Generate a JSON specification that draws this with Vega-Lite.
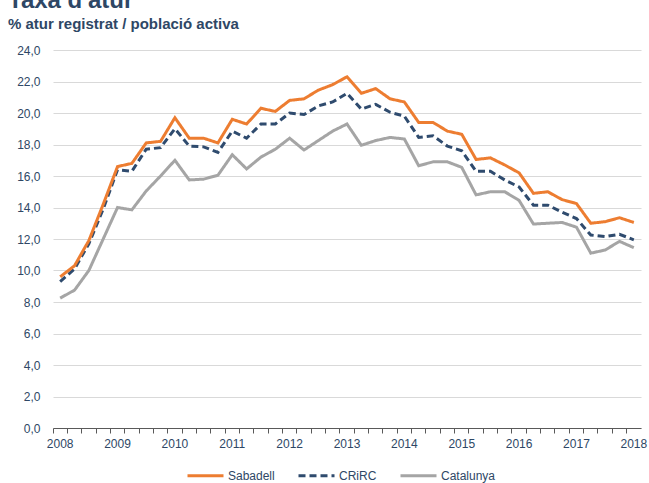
{
  "$schema": "https://vega.github.io/schema/vega-lite/v6.json",
  "width": 588,
  "height": 378,
  "autosize": "none",
  "padding": {"left": 53, "top": 50, "right": 8, "bottom": 55},
  "background": "white",
  "title": {
    "text": "Taxa d'atur",
    "subtitle": "% atur registrat / població activa",
    "anchor": "start",
    "frame": "group",
    "dx": -45,
    "offset": 12,
    "font": "Liberation Sans",
    "fontSize": 24,
    "fontWeight": "bold",
    "color": "#2E4765",
    "subtitleFont": "Liberation Sans",
    "subtitleFontSize": 15,
    "subtitleFontWeight": "bold",
    "subtitleColor": "#2E4765",
    "subtitlePadding": 4
  },
  "config": {
    "font": "Liberation Sans",
    "view": {"stroke": null}
  },
  "data": {
    "values": [
      {"t": "2008-1", "Sabadell": 9.6, "CRiRC": 9.3, "Catalunya": 8.25},
      {"t": "2008-2", "Sabadell": 10.3, "CRiRC": 10.1, "Catalunya": 8.75},
      {"t": "2008-3", "Sabadell": 11.9, "CRiRC": 11.7, "Catalunya": 10.0},
      {"t": "2008-4", "Sabadell": 14.2, "CRiRC": 13.9, "Catalunya": 12.0},
      {"t": "2009-1", "Sabadell": 16.6, "CRiRC": 16.4, "Catalunya": 14.0},
      {"t": "2009-2", "Sabadell": 16.8, "CRiRC": 16.3, "Catalunya": 13.85},
      {"t": "2009-3", "Sabadell": 18.1, "CRiRC": 17.7, "Catalunya": 15.05},
      {"t": "2009-4", "Sabadell": 18.2, "CRiRC": 17.8, "Catalunya": 16.0},
      {"t": "2010-1", "Sabadell": 19.7, "CRiRC": 19.0, "Catalunya": 17.0},
      {"t": "2010-2", "Sabadell": 18.4, "CRiRC": 17.9, "Catalunya": 15.75},
      {"t": "2010-3", "Sabadell": 18.4, "CRiRC": 17.85, "Catalunya": 15.8},
      {"t": "2010-4", "Sabadell": 18.1, "CRiRC": 17.5, "Catalunya": 16.05},
      {"t": "2011-1", "Sabadell": 19.6, "CRiRC": 18.85, "Catalunya": 17.35},
      {"t": "2011-2", "Sabadell": 19.3, "CRiRC": 18.4, "Catalunya": 16.45},
      {"t": "2011-3", "Sabadell": 20.3, "CRiRC": 19.3, "Catalunya": 17.2},
      {"t": "2011-4", "Sabadell": 20.1, "CRiRC": 19.3, "Catalunya": 17.7},
      {"t": "2012-1", "Sabadell": 20.8, "CRiRC": 20.0, "Catalunya": 18.4},
      {"t": "2012-2", "Sabadell": 20.9, "CRiRC": 19.9, "Catalunya": 17.65},
      {"t": "2012-3", "Sabadell": 21.45, "CRiRC": 20.45, "Catalunya": 18.25},
      {"t": "2012-4", "Sabadell": 21.8, "CRiRC": 20.7, "Catalunya": 18.85},
      {"t": "2013-1", "Sabadell": 22.3, "CRiRC": 21.25, "Catalunya": 19.3},
      {"t": "2013-2", "Sabadell": 21.25, "CRiRC": 20.25, "Catalunya": 17.95},
      {"t": "2013-3", "Sabadell": 21.55, "CRiRC": 20.55, "Catalunya": 18.25},
      {"t": "2013-4", "Sabadell": 20.9, "CRiRC": 20.05, "Catalunya": 18.45},
      {"t": "2014-1", "Sabadell": 20.7, "CRiRC": 19.8, "Catalunya": 18.35},
      {"t": "2014-2", "Sabadell": 19.4, "CRiRC": 18.45, "Catalunya": 16.65},
      {"t": "2014-3", "Sabadell": 19.4, "CRiRC": 18.55, "Catalunya": 16.9},
      {"t": "2014-4", "Sabadell": 18.85, "CRiRC": 17.9, "Catalunya": 16.9},
      {"t": "2015-1", "Sabadell": 18.65, "CRiRC": 17.6, "Catalunya": 16.55},
      {"t": "2015-2", "Sabadell": 17.05, "CRiRC": 16.3, "Catalunya": 14.8},
      {"t": "2015-3", "Sabadell": 17.15, "CRiRC": 16.3, "Catalunya": 15.0},
      {"t": "2015-4", "Sabadell": 16.7, "CRiRC": 15.75, "Catalunya": 15.0},
      {"t": "2016-1", "Sabadell": 16.2, "CRiRC": 15.3, "Catalunya": 14.45},
      {"t": "2016-2", "Sabadell": 14.9, "CRiRC": 14.15, "Catalunya": 12.95},
      {"t": "2016-3", "Sabadell": 15.0, "CRiRC": 14.15, "Catalunya": 13.0},
      {"t": "2016-4", "Sabadell": 14.5, "CRiRC": 13.7, "Catalunya": 13.05},
      {"t": "2017-1", "Sabadell": 14.25, "CRiRC": 13.3, "Catalunya": 12.75},
      {"t": "2017-2", "Sabadell": 13.0, "CRiRC": 12.25, "Catalunya": 11.1},
      {"t": "2017-3", "Sabadell": 13.1, "CRiRC": 12.15, "Catalunya": 11.3},
      {"t": "2017-4", "Sabadell": 13.35, "CRiRC": 12.3, "Catalunya": 11.85},
      {"t": "2018-1", "Sabadell": 13.05, "CRiRC": 11.95, "Catalunya": 11.45}
    ]
  },
  "transform": [
    {"fold": ["Catalunya", "CRiRC", "Sabadell"], "as": ["serie", "valor"]}
  ],
  "mark": {"type": "line", "strokeWidth": 3},
  "encoding": {
    "x": {
      "field": "t",
      "type": "ordinal",
      "sort": null,
      "scale": {"type": "band", "paddingInner": 0, "paddingOuter": 0},
      "axis": {
        "title": null,
        "bandPosition": 0,
        "labelOffset": 0,
        "labelAngle": 0,
        "labelOverlap": false,
        "labelExpr": "slice(datum.value, 5) == '1' ? slice(datum.value, 0, 4) : ''",
        "labelFontSize": 12,
        "labelColor": "#2E4765",
        "labelPadding": 5,
        "tickSize": 5,
        "tickColor": "#595959",
        "domainColor": "#595959",
        "grid": false
      }
    },
    "y": {
      "field": "valor",
      "type": "quantitative",
      "scale": {"domain": [0, 24], "nice": false},
      "axis": {
        "title": null,
        "values": [0, 2, 4, 6, 8, 10, 12, 14, 16, 18, 20, 22, 24],
        "labelExpr": "replace(format(datum.value, '.1f'), '.', ',')",
        "labelFontSize": 12,
        "labelColor": "#2E4765",
        "labelPadding": 13,
        "domain": false,
        "ticks": false,
        "grid": true,
        "gridColor": "#D9D9D9",
        "gridWidth": 1
      }
    },
    "color": {
      "field": "serie",
      "type": "nominal",
      "scale": {"domain": ["Sabadell", "CRiRC", "Catalunya"], "range": ["#ED7D31", "#2F4B6E", "#A5A5A5"]},
      "legend": {
        "title": null,
        "orient": "none",
        "legendX": 133,
        "legendY": 406,
        "padding": 0,
        "direction": "horizontal",
        "symbolType": "stroke",
        "symbolSize": 1296,
        "symbolStrokeWidth": 3,
        "labelFontSize": 12,
        "labelOffset": 3,
        "labelColor": "#2E4765",
        "columnPadding": 17
      }
    },
    "strokeDash": {
      "field": "serie",
      "type": "nominal",
      "scale": {"domain": ["Sabadell", "CRiRC", "Catalunya"], "range": [[1, 0], [7, 4], [1, 0]]},
      "legend": {
        "title": null,
        "orient": "none",
        "legendX": 133,
        "legendY": 406,
        "padding": 0,
        "direction": "horizontal",
        "symbolType": "stroke",
        "symbolSize": 1296,
        "symbolStrokeWidth": 3,
        "labelFontSize": 12,
        "labelOffset": 3,
        "labelColor": "#2E4765",
        "columnPadding": 17
      }
    }
  }
}
